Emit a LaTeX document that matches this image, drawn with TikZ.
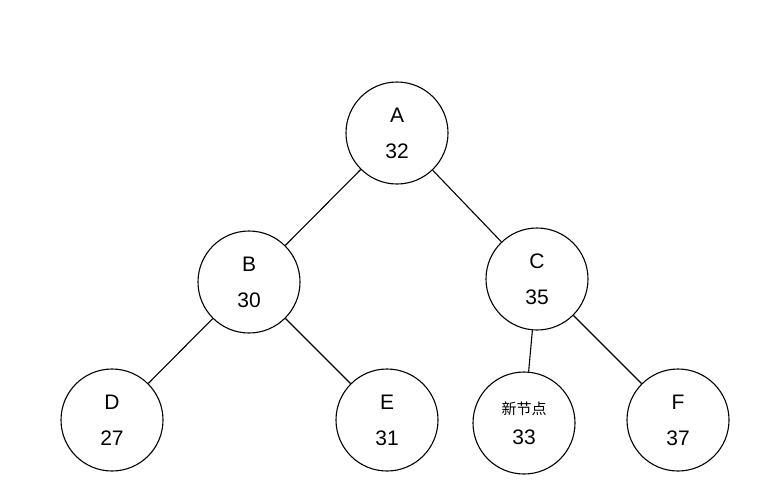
\documentclass[tikz,border=0pt]{standalone}
\usepackage{fontspec}
\setmainfont{Liberation Sans}
\newfontfamily\cjk{Noto Sans CJK SC}
\tikzstyle{treenode} = [circle, draw=black, line width=1.1pt, minimum size=102pt, inner sep=0pt, align=center, font=\fontsize{21}{36}\selectfont]
\tikzstyle{edge} = [line width=1.1pt]
\begin{document}
\begin{tikzpicture}[x=1pt, y=-1pt]
	\useasboundingbox (0,0) rectangle (778,483);

	% nodes
	\node (nA)[treenode] at (397,133) {A\\32};
	\node (nB)[treenode] at (249,282) {B\\30};
	\node (nC)[treenode] at (537,279) {C\\35};
	\node (nD)[treenode] at (112,420) {D\\27};
	\node (nE)[treenode] at (387,420) {E\\31};
	\node (nNew)[treenode, font=\fontsize{21}{30}\selectfont] at (524,423) {{\cjk\fontsize{15}{18}\selectfont 新节点}\\33};
	\node (nF)[treenode] at (678,420) {F\\37};

	% lines
	\draw[edge] (nA) -- (nB);
	\draw[edge] (nA) -- (nC);
	\draw[edge] (nB) -- (nD);
	\draw[edge] (nB) -- (nE);
	\draw[edge] (nC) -- (nNew);
	\draw[edge] (nC) -- (nF);
\end{tikzpicture}
\end{document}
